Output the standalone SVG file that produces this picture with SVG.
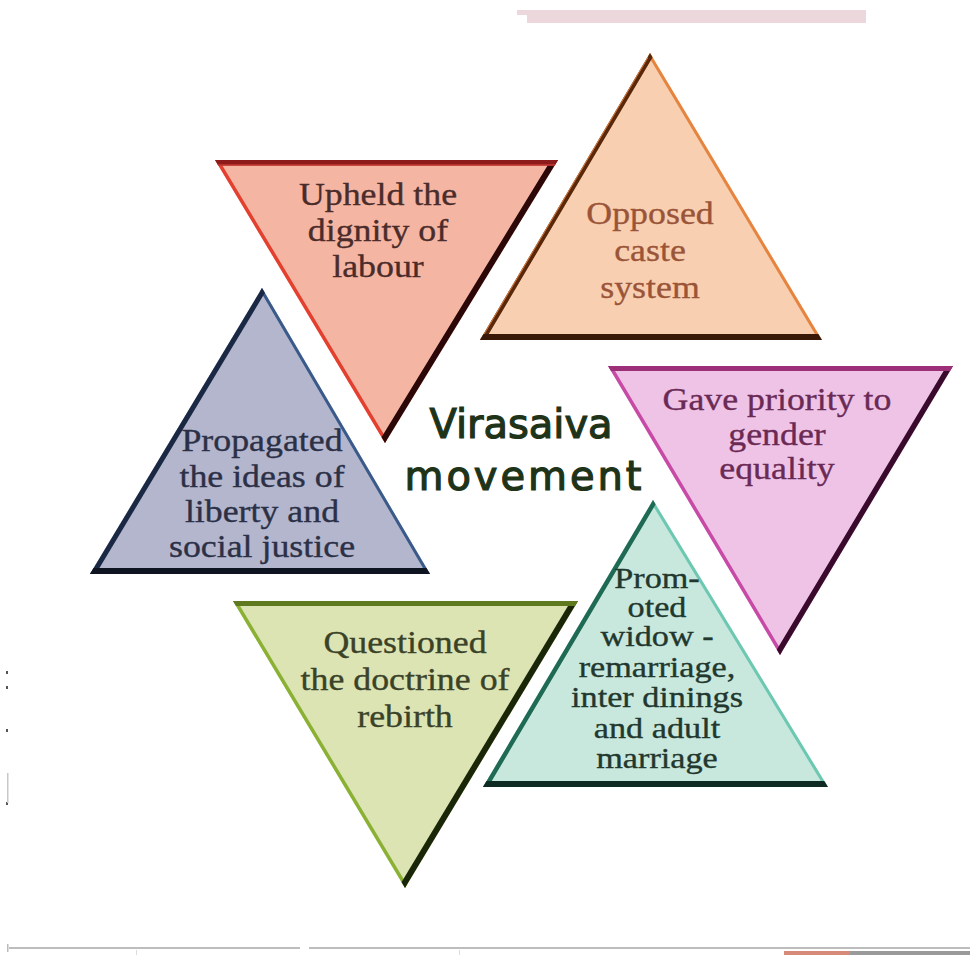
<svg xmlns="http://www.w3.org/2000/svg" width="970" height="955" viewBox="0 0 970 955">
  <style>
    .lbl { font-family: "Liberation Serif", "Times New Roman", serif; font-size: 32px; text-anchor: middle; stroke-width: 0.35px; }
    .small { font-size: 29px; }
    .title { font-family: "DejaVu Sans", "Liberation Sans", sans-serif; font-size: 40px; fill: #1e3318; stroke: #1e3318; stroke-width: 1.2px; text-anchor: middle; }
    .band { fill: none; stroke-linecap: square; }
    .rule { fill: #bdbdbd; }
  </style>
  <defs>
    <clipPath id="clip-red"><polygon points="215,160 558,160 385,443"/></clipPath>
    <clipPath id="clip-orange"><polygon points="650,53 822,340 480,340"/></clipPath>
    <clipPath id="clip-pink"><polygon points="608,366 953,366 780,655"/></clipPath>
    <clipPath id="clip-blue"><polygon points="262,288 430,574 90,574"/></clipPath>
    <clipPath id="clip-green"><polygon points="233,601 578,601 405,888"/></clipPath>
    <clipPath id="clip-teal"><polygon points="653,500 828,787 483,787"/></clipPath>
  </defs>

  <rect width="970" height="955" fill="#ffffff"/>

  <!-- top tab bar -->
  <polygon points="517,10 866,10 866,23 527,23 527,15 517,15" fill="#ecd7dc"/>

  <!-- margin marks -->
  <g fill="#555">
    <rect x="6" y="671" width="2" height="3"/>
    <rect x="6" y="686" width="2" height="3"/>
    <rect x="6" y="729" width="2" height="3"/>
    <rect x="6" y="802" width="2" height="3"/>
  </g>
  <rect x="7" y="773" width="1.5" height="30" fill="#c8c8c8"/>

  <!-- bottom rule -->
  <rect class="rule" x="9" y="947" width="291" height="2"/>
  <rect class="rule" x="309" y="947" width="661" height="2"/>
  <rect x="7" y="944" width="1.5" height="8" fill="#bbbbbb"/>
  <rect x="136" y="950" width="1" height="5" fill="#dddddd"/>
  <rect x="459" y="950" width="1" height="5" fill="#dddddd"/>
  <rect x="784" y="951" width="66" height="4" fill="#d58a7a"/>
  <rect x="850" y="951" width="120" height="4" fill="#9a9a9a"/>

  <!-- Upheld the dignity of labour -->
  <g id="node-labour">
    <polygon points="215,160 558,160 385,443" fill="#f5b5a3"/>
    <g clip-path="url(#clip-red)" class="band">
      <line x1="215" y1="160" x2="385" y2="443" stroke="#e3402f" stroke-width="7"/>
      <line x1="558" y1="160" x2="385" y2="443" stroke="#2b0707" stroke-width="12"/>
      <line x1="215" y1="160" x2="558" y2="160" stroke="#8d1b1b" stroke-width="11"/>
      <line x1="215" y1="165" x2="558" y2="165" stroke="#c73a34" stroke-width="1.5"/>
    </g>
    <g class="lbl" fill="#4a2c2a" stroke="#4a2c2a" transform="translate(378 0) scale(1.12 1)">
      <text x="0" y="205">Upheld the</text>
      <text x="0" y="241">dignity of</text>
      <text x="0" y="277">labour</text>
    </g>
  </g>

  <!-- Opposed caste system -->
  <g id="node-caste">
    <polygon points="650,53 822,340 480,340" fill="#f9cfb2"/>
    <g clip-path="url(#clip-orange)" class="band">
      <line x1="650" y1="53" x2="822" y2="340" stroke="#e5843f" stroke-width="6"/>
      <line x1="650" y1="53" x2="480" y2="340" stroke="#5a2808" stroke-width="9"/>
      <line x1="647" y1="58" x2="477" y2="345" stroke="#d47a40" stroke-width="2"/>
      <line x1="480" y1="340" x2="822" y2="340" stroke="#3a1808" stroke-width="12"/>
    </g>
    <g class="lbl" fill="#9a5538" stroke="#9a5538" transform="translate(650 0) scale(1.12 1)">
      <text x="0" y="224">Opposed</text>
      <text x="0" y="261">caste</text>
      <text x="0" y="298">system</text>
    </g>
  </g>

  <!-- Gave priority to gender equality -->
  <g id="node-gender">
    <polygon points="608,366 953,366 780,655" fill="#efc3e6"/>
    <g clip-path="url(#clip-pink)" class="band">
      <line x1="608" y1="366" x2="780" y2="655" stroke="#c64aa6" stroke-width="7"/>
      <line x1="953" y1="366" x2="780" y2="655" stroke="#3a0a2c" stroke-width="11"/>
      <line x1="608" y1="366" x2="953" y2="366" stroke="#9c2f78" stroke-width="10"/>
    </g>
    <g class="lbl" fill="#6a2a55" stroke="#6a2a55" transform="translate(777 0) scale(1.12 1)">
      <text x="0" y="410">Gave priority to</text>
      <text x="0" y="445">gender</text>
      <text x="0" y="479">equality</text>
    </g>
  </g>

  <!-- Propagated the ideas of liberty and social justice -->
  <g id="node-liberty">
    <polygon points="262,288 430,574 90,574" fill="#b3b6cd"/>
    <g clip-path="url(#clip-blue)" class="band">
      <line x1="262" y1="288" x2="430" y2="574" stroke="#3a5a8a" stroke-width="6"/>
      <line x1="262" y1="288" x2="90" y2="574" stroke="#1a2844" stroke-width="10"/>
      <line x1="90" y1="574" x2="430" y2="574" stroke="#0e1420" stroke-width="12"/>
    </g>
    <g class="lbl" fill="#2c3046" stroke="#2c3046" transform="translate(262 0) scale(1.12 1)">
      <text x="0" y="451">Propagated</text>
      <text x="0" y="487">the ideas of</text>
      <text x="0" y="522">liberty and</text>
      <text x="0" y="557">social justice</text>
    </g>
  </g>

  <!-- Questioned the doctrine of rebirth -->
  <g id="node-rebirth">
    <polygon points="233,601 578,601 405,888" fill="#dde4b4"/>
    <g clip-path="url(#clip-green)" class="band">
      <line x1="233" y1="601" x2="405" y2="888" stroke="#8ab034" stroke-width="7"/>
      <line x1="578" y1="601" x2="405" y2="888" stroke="#1a2608" stroke-width="12"/>
      <line x1="233" y1="601" x2="578" y2="601" stroke="#5f7a1e" stroke-width="10"/>
    </g>
    <g class="lbl" fill="#3a4228" stroke="#3a4228" transform="translate(405 0) scale(1.12 1)">
      <text x="0" y="653">Questioned</text>
      <text x="0" y="690">the doctrine of</text>
      <text x="0" y="727">rebirth</text>
    </g>
  </g>

  <!-- Promoted widow-remarriage, inter dinings and adult marriage -->
  <g id="node-marriage">
    <polygon points="653,500 828,787 483,787" fill="#c9e8dd"/>
    <g clip-path="url(#clip-teal)" class="band">
      <line x1="653" y1="500" x2="828" y2="787" stroke="#6cc8b0" stroke-width="6"/>
      <line x1="653" y1="500" x2="483" y2="787" stroke="#1f6a55" stroke-width="9"/>
      <line x1="483" y1="787" x2="828" y2="787" stroke="#0f2a22" stroke-width="12"/>
    </g>
    <g class="lbl small" fill="#22382f" stroke="#22382f" transform="translate(657 0) scale(1.18 1)">
      <text x="0" y="588">Prom-</text>
      <text x="0" y="617">oted</text>
      <text x="0" y="646">widow -</text>
      <text x="0" y="677">remarriage,</text>
      <text x="0" y="707">inter dinings</text>
      <text x="0" y="738">and adult</text>
      <text x="0" y="768">marriage</text>
    </g>
  </g>

  <!-- centre title -->
  <g id="title">
    <text class="title" x="521" y="438">Virasaiva</text>
    <text class="title" x="523" y="490" textLength="237" lengthAdjust="spacing">movement</text>
  </g>
</svg>
